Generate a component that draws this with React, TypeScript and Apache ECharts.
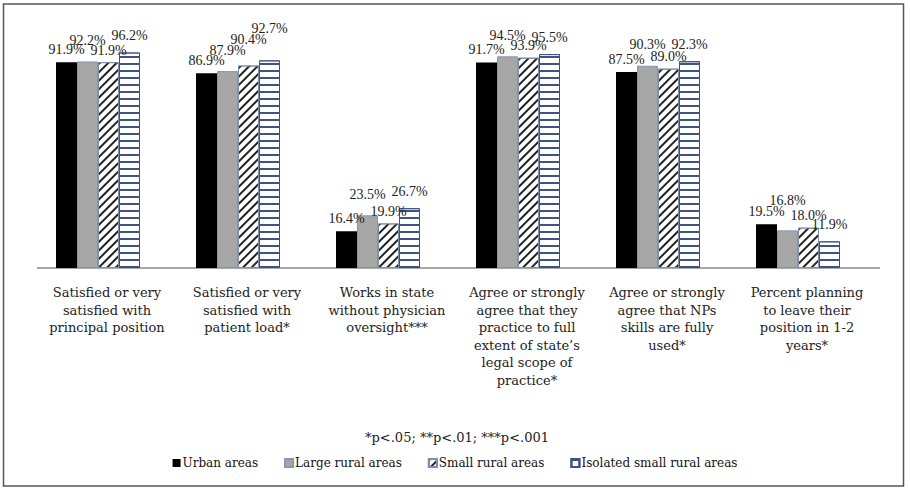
import React, { useEffect, useRef } from "react";
import * as echarts from "echarts";

const categories = [
  "Satisfied or very\nsatisfied with\nprincipal position",
  "Satisfied or very\nsatisfied with\npatient load*",
  "Works in state\nwithout physician\noversight***",
  "Agree or strongly\nagree that they\npractice to full\nextent of state\u2019s\nlegal scope of\npractice*",
  "Agree or strongly\nagree that NPs\nskills are fully\nused*",
  "Percent planning\nto leave their\nposition in 1-2\nyears*",
];
const seriesNames = ["Urban areas", "Large rural areas", "Small rural areas", "Isolated small rural areas"];
const urban = [91.9, 86.9, 16.4, 91.7, 87.5, 19.5];
const largeRural = [92.2, 87.9, 23.5, 94.5, 90.3, 16.8];
const smallRural = [91.9, 90.4, 19.9, 93.9, 89.0, 18.0];
const isolatedRural = [96.2, 92.7, 26.7, 95.5, 92.3, 11.9];
const footnote = "*p<.05; **p<.01; ***p<.001";

type R = { x: number; y: number; w: number; h: number };

export default function App() {
  const ref = useRef<HTMLDivElement>(null);
  useEffect(() => {
    if (!ref.current) return;
    const chart = echarts.init(ref.current, null, { renderer: "svg" });
    const placed: Record<string, R> = {};
    const hits = (a: R, b: R) => {
      const ox = Math.min(a.x + a.w, b.x + b.w) - Math.max(a.x, b.x);
      const oy = Math.min(a.y + a.h, b.y + b.h) - Math.max(a.y, b.y);
      return ox > 5 && oy > 7;
    };
    const stagger = (params: any) => {
      const r = params.labelRect;
      const s = params.seriesIndex;
      const d = params.dataIndex;
      const rect: R = { x: r.x, y: r.y, w: r.width, h: r.height };
      for (let iter = 0; iter < 4; iter++) {
        let moved = false;
        for (let k = 0; k < s; k++) {
          const p = placed[k + "_" + d];
          if (p && hits(rect, p)) {
            rect.y = p.y - rect.h + 3;
            moved = true;
          }
        }
        if (!moved) break;
      }
      placed[s + "_" + d] = rect;
      return { dy: rect.y - r.y };
    };
    const labelBase = {
      show: true,
      position: "top",
      fontFamily: "Liberation Serif",
      fontSize: 14,
      color: "#222",
      formatter: (p: any) => Number(p.value).toFixed(1) + "%",
    };
    const mk = (name: string, data: number[], itemStyle: any, label: any) => ({
      name,
      type: "bar",
      data,
      barWidth: 21,
      barGap: "0%",
      itemStyle,
      label: { ...labelBase, ...label },
      labelLayout: stagger,
      emphasis: { disabled: true },
    });
    chart.setOption({
      animation: false,
      backgroundColor: "#fff",
      grid: { left: 28, right: 42, top: 44, bottom: 222 },
      legend: {
        bottom: 16,
        left: "center",
        icon: "rect",
        itemWidth: 8,
        itemHeight: 8,
        itemGap: 26,
        textStyle: { fontFamily: "DejaVu Serif", fontSize: 12, color: "#111", padding: [0, 0, 0, -3] },
        data: seriesNames,
      },
      xAxis: {
        type: "category",
        data: categories,
        axisLine: { show: false },
        axisTick: { show: false },
        axisLabel: {
          interval: 0,
          margin: 16,
          fontFamily: "DejaVu Serif",
          fontSize: 13,
          lineHeight: 17.5,
          color: "#222",
          padding: [0, 0, 0, 18],
        },
      },
      yAxis: { type: "value", min: 0, max: 100, show: false, splitLine: { show: false } },
      graphic: [
        {
          type: "rect",
          shape: { x: 3.5, y: 4, width: 900, height: 482 },
          style: { fill: "none", stroke: "#555", lineWidth: 1.5 },
          silent: true,
        },
        {
          type: "line",
          shape: { x1: 37, y1: 268, x2: 880, y2: 268 },
          style: { stroke: "#8a8a8a", lineWidth: 1.5 },
          silent: true,
        },
        {
          type: "text",
          x: 457,
          y: 437,
          style: {
            text: footnote,
            fontFamily: "DejaVu Serif",
            fontSize: 13,
            fill: "#222",
            align: "center",
            verticalAlign: "middle",
          },
          silent: true,
        },
      ],
      series: [
        mk(seriesNames[0], urban, { color: "#000" }, { distance: 6, offset: [-8, 0] }),
        mk(
          seriesNames[1],
          largeRural,
          { color: "#a6a6a6", borderColor: "#8496b0", borderWidth: 1 },
          { distance: 14, offset: [0, 0] }
        ),
        mk(
          seriesNames[2],
          smallRural,
          {
            color: "#fff",
            borderColor: "#7f8fa9",
            borderWidth: 1,
            decal: {
              symbol: "rect",
              symbolSize: 1,
              dashArrayX: [1, 0],
              dashArrayY: [1.3, 3.7],
              rotation: -Math.PI / 4,
              color: "#222",
            },
          },
          { distance: 5, offset: [-3, 0] }
        ),
        mk(
          seriesNames[3],
          isolatedRural,
          {
            color: "#fff",
            borderColor: "#3f5283",
            borderWidth: 1,
            decal: {
              symbol: "rect",
              symbolSize: 1,
              dashArrayX: [1, 0],
              dashArrayY: [1.2, 5],
              rotation: 0,
              color: "#3f5283",
            },
          },
          { distance: 10, offset: [6, 0] }
        ),
      ],
    });
    return () => chart.dispose();
  }, []);
  return (
    <div
      ref={ref}
      style={{ position: "fixed", left: 0, top: 0, width: 910, height: 490, background: "#fff" }}
    />
  );
}
